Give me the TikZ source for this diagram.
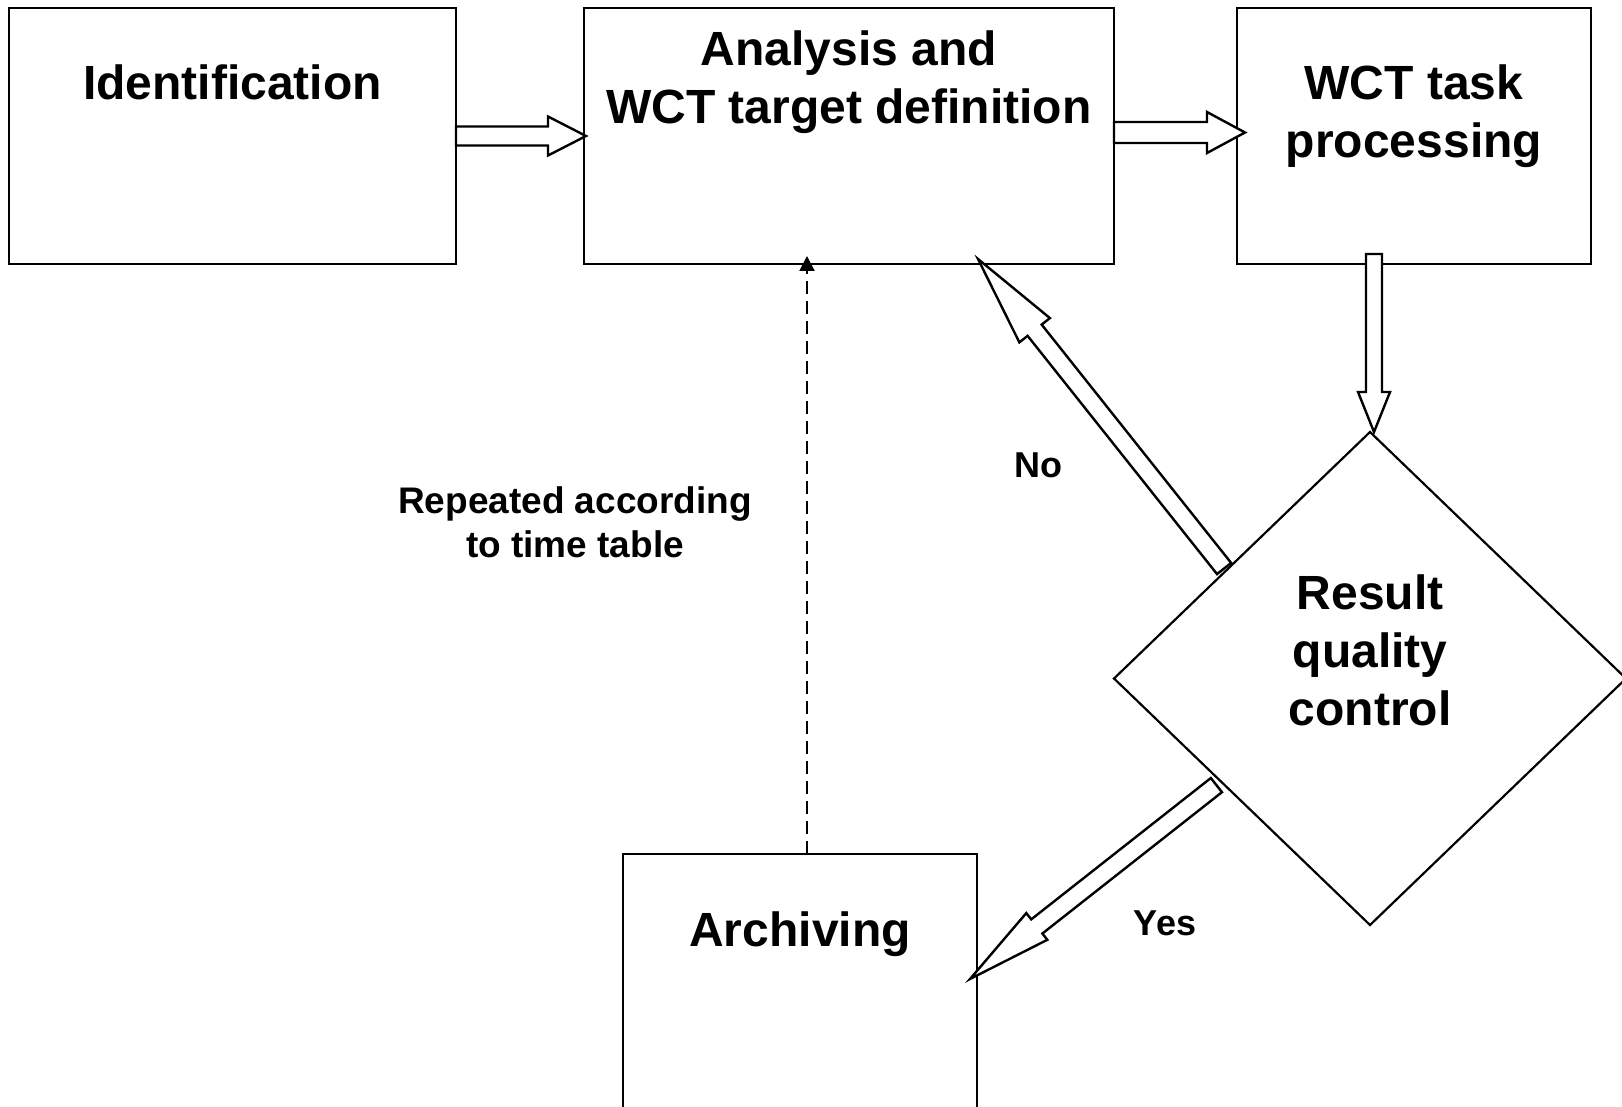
\documentclass[tikz,border=0pt]{standalone}
\usepackage{fontspec}
\setmainfont{Liberation Sans}
\usetikzlibrary{calc,shapes.geometric,arrows.meta}
% block (hollow) arrow: tail, tip, shaft half width, head half width, head length
\newcommand{\blkarrow}[5]{%
  \coordinate (#1#2h) at ($(#2)!#5!(#1)$);
  \draw[blockline] ($(#1)!#3!90:(#2)$) -- ($(#1#2h)!#3!90:(#2)$) -- ($(#1#2h)!#4!90:(#2)$)
    -- (#2) -- ($(#1#2h)!#4!-90:(#2)$) -- ($(#1#2h)!#3!-90:(#2)$) -- ($(#1)!#3!-90:(#2)$) -- cycle;
}
\begin{document}
\begin{tikzpicture}[x=1pt,y=-1pt,
  box/.style={draw, line width=2.6pt, rectangle, inner sep=0pt, outer sep=0pt},
  decision/.style={draw, line width=2.2pt, diamond, inner sep=0pt, outer sep=0pt},
  boxtext/.style={font=\fontsize{48}{58}\selectfont\bfseries, align=center, anchor=base, inner sep=0pt},
  labeltext/.style={font=\fontsize{36}{44.5}\selectfont\bfseries, align=center, anchor=base, inner sep=0pt},
  notetext/.style={font=\fontsize{37}{44.5}\selectfont\bfseries, align=center, anchor=base, inner sep=0pt},
  blockline/.style={draw, line width=2.4pt, fill=white, line join=miter},
  dashline/.style={line width=2pt, dash pattern=on 13pt off 7pt, -{Triangle[length=15pt,width=15pt]}}
  ]
\useasboundingbox (0,0) rectangle (1622,1107);
\clip (0,0) rectangle (1622,1107);
\fill[white] (0,0) rectangle (1622,1107);

% boxes
\node[box, minimum width=447pt, minimum height=256pt] (ident) at (232.5,136) {};
\node[box, minimum width=530pt, minimum height=256pt] (analysis) at (849,136) {};
\node[box, minimum width=354pt, minimum height=256pt] (wct) at (1414,136) {};
\node[box, minimum width=354pt, minimum height=266pt] (archiving) at (800,987) {};
\node[decision, minimum width=512pt, minimum height=493pt] (qc) at (1370,678.5) {};

% texts (multi-line nodes: base anchor = last line's baseline)
\node[boxtext] (identtext) at ($(ident.north)+(0,92)$) {Identification};
\node[boxtext] (analysistext) at ($(analysis.north)+(0,116)$) {Analysis and\\WCT target definition};
\node[boxtext] (wcttext) at ($(wct.north)+(0,150)$) {WCT task\\processing};
\node[boxtext] (archtext) at ($(archiving.north)+(0,92)$) {Archiving};
\node[boxtext] (qctext) at ($(qc.north)+(0,293)$) {Result\\quality\\control};

\node[notetext] (repeated) at (575,557.5) {Repeated according\\to time table};
\node[labeltext] (no) at (1038.5,477) {No};
\node[labeltext] (yes) at (1165,935) {Yes};

% dashed feedback
\draw[dashline] ($(archiving.north)+(7,0)$) -- ($(analysis.south)+(-42,-8)$);

% block arrows
\coordinate (t1) at (ident.east);
\coordinate (p1) at ($(analysis.west)+(2,0)$);
\blkarrow{t1}{p1}{9.5pt}{19.5pt}{38pt}

\coordinate (t2) at ($(analysis.east)+(0,-3.5)$);
\coordinate (p2) at ($(wct.west)+(8,-3.5)$);
\blkarrow{t2}{p2}{10.5pt}{20.5pt}{38pt}

\coordinate (t3) at ($(wct.south)+(-40,-10)$);
\coordinate (p3) at ($(qc.north)+(4,0)$);
\blkarrow{t3}{p3}{8pt}{16pt}{40pt}

\coordinate (t4) at ($(qc.west)!0.43!(qc.north)+(0,-4)$);
\coordinate (p4) at ($(analysis.south)+(129,-5)$);
\blkarrow{t4}{p4}{9pt}{19.5pt}{91pt}

\coordinate (t5) at ($(qc.west)!0.4!(qc.south)+(0,8)$);
\coordinate (p5) at ($(archiving.north east)+(-7,125)$);
\blkarrow{t5}{p5}{9pt}{17pt}{85pt}
\end{tikzpicture}
\end{document}
